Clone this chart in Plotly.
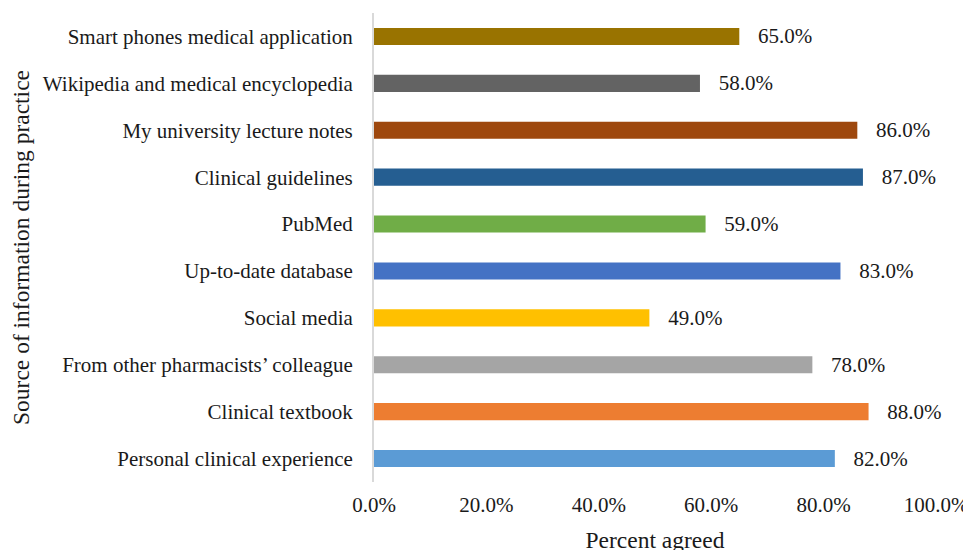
import plotly.graph_objects as go

categories = [
    "Personal clinical experience",
    "Clinical textbook",
    "From other pharmacists\u2019 colleague",
    "Social media",
    "Up-to-date database",
    "PubMed",
    "Clinical guidelines",
    "My university lecture notes",
    "Wikipedia and medical encyclopedia",
    "Smart phones medical application",
]
percent_agreed = [82.0, 88.0, 78.0, 49.0, 83.0, 59.0, 87.0, 86.0, 58.0, 65.0]
bar_colors = ["#5B9BD5", "#ED7D31", "#A5A5A5", "#FFC000", "#4472C4",
              "#70AD47", "#255E91", "#9E480E", "#636363", "#997300"]
tick_values = [0, 20, 40, 60, 80, 100]
tick_labels = ["0.0%", "20.0%", "40.0%", "60.0%", "80.0%", "100.0%"]

FONT = "Liberation Serif, Times New Roman, serif"

fig = go.Figure(go.Bar(
    x=percent_agreed,
    y=categories,
    orientation="h",
    marker=dict(color=bar_colors, line=dict(width=0)),
    text=["   %.1f%%" % v for v in percent_agreed],
    textposition="outside",
    constraintext="none",
    textfont=dict(family=FONT, size=21, color="#1a1a1a"),
    cliponaxis=False,
))

fig.update_layout(
    width=971, height=550,
    margin=dict(l=366, r=43, t=5, b=76),
    plot_bgcolor="white", paper_bgcolor="white",
    font=dict(family=FONT, size=21, color="#1a1a1a"),
    bargap=0.635,
    showlegend=False,
    xaxis=dict(
        range=[0, 100],
        tickvals=tick_values, ticktext=tick_labels,
        showgrid=False, zeroline=False, showline=False,
        ticks="", ticklabelstandoff=8,
        automargin=False,
        title=dict(text="Percent agreed", standoff=15, font=dict(size=23.5)),
    ),
    yaxis=dict(
        categoryorder="array", categoryarray=categories,
        showgrid=False, zeroline=False,
        showline=True, linecolor="#D9D9D9", linewidth=2,
        ticks="", ticklabelstandoff=15,
        automargin=False,
        title=dict(text="Source of information during practice", standoff=8, font=dict(size=23.5)),
    ),
)

fig.write_html("out.html")
